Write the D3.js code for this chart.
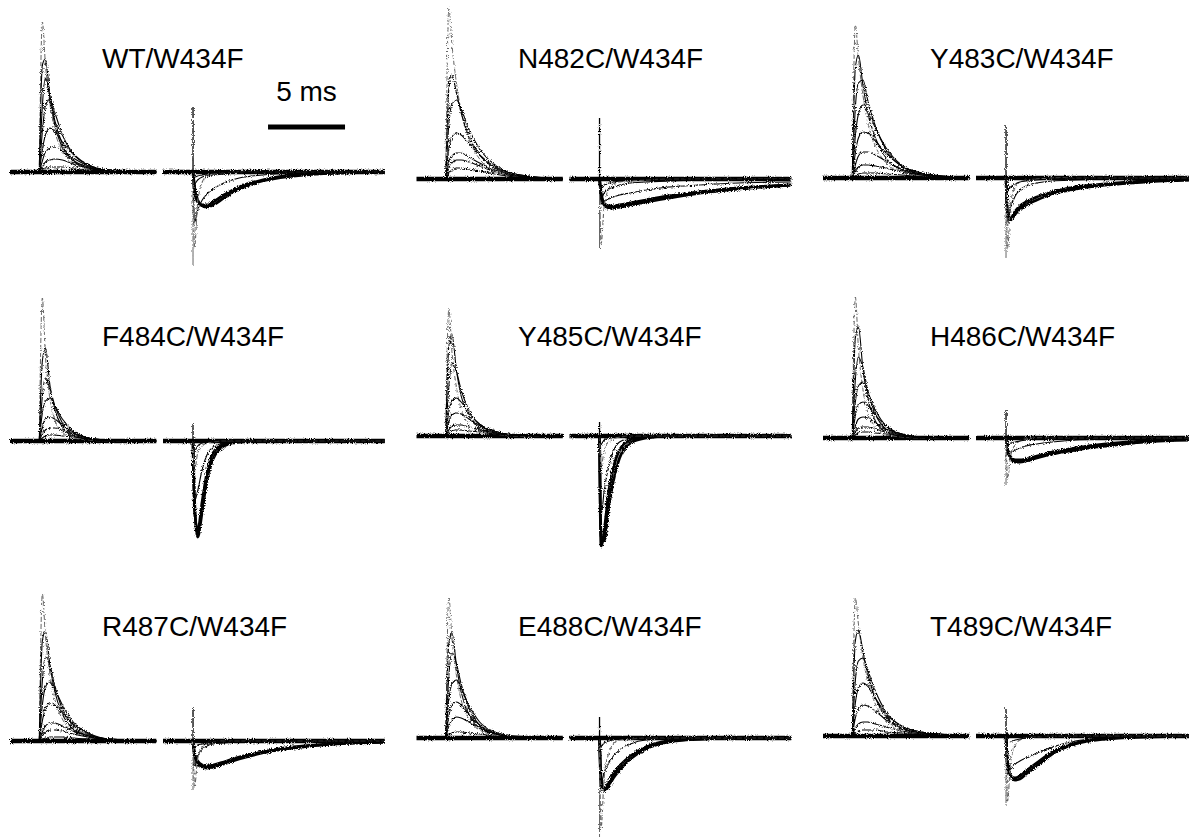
<!DOCTYPE html>
<html>
<head>
<meta charset="utf-8">
<script src="https://cdn.jsdelivr.net/npm/d3@7"></script>
<style>
html, body { margin: 0; background: #fff; }
</style>
</head>
<body>
<div id="chart"></div>
<script>
// panel titles, row by row
var panelNames = ["WT/W434F", "N482C/W434F", "Y483C/W434F",
                  "F484C/W434F", "Y485C/W434F", "H486C/W434F",
                  "R487C/W434F", "E488C/W434F", "T489C/W434F"];

// sample times (ms after the voltage step)
var tOn = [0, 0.2, 0.4, 0.7, 1.0, 1.5, 2.2, 3.2, 4.5, 7.6];
var tOff = [0, 0.1, 0.3, 0.6, 0.9, 1.3, 2, 3, 4.5, 6.5, 9, 12.45];

// ON gating currents (a.u.), one row per test pulse
var onWT = [[0,150,108,68,42,21,9,3,1,0],[0,107,113,74,48,24,11,4,1,0],[0,66,94,75,52,28,12,5,1,0],
  [0,40,66,73,60,37,18,7,2,0],[0,22,37,44,41,30,18,7,2,0],[0,11,20,24,25,21,14,6,2,0],
  [0,5,10,12,13,12,8,4,2,0],[0,2,4,5,5,5,4,2,1,0]];
var onN482C = [[0,171,135,95,68,40,20,8,3,0],[0,90,104,86,66,43,24,11,4,0],[0,55,75,79,70,50,30,14,5,0],
  [0,30,42,46,44,36,24,12,5,0],[0,16,23,26,26,22,16,9,4,0],[0,11,16,19,19,17,13,7,3,0],
  [0,6,9,11,11,10,8,5,2,0]];
var onY483C = [[0,153,120,82,56,32,15,6,2,0],[0,110,123,92,66,40,20,8,3,0],[0,70,95,98,78,52,28,12,4,0],
  [0,42,64,73,67,50,30,13,5,0],[0,25,40,46,45,37,25,12,5,0],[0,13,22,26,26,23,17,9,4,0],
  [0,6,11,13,13,12,10,6,3,0],[0,2,4,5,5,5,4,3,1,0]];
var onF484C = [[0,143,85,42,22,9,3,1,0,0],[0,80,93,55,32,14,5,2,0,0],[0,45,63,52,36,18,7,2,0,0],
  [0,28,40,43,35,22,10,3,1,0],[0,14,22,24,22,16,9,3,1,0],[0,7,11,13,13,11,7,3,1,0],
  [0,3,5,6,6,5,4,2,1,0]];
var onY485C = [[0,128,85,48,27,12,5,2,0,0],[0,90,101,65,40,20,8,3,1,0],[0,50,73,64,46,26,11,4,1,0],
  [0,24,35,38,34,23,12,5,1,0],[0,14,21,23,22,17,10,4,1,0],[0,6,10,11,11,9,6,3,1,0],
  [0,3,5,6,6,5,4,2,1,0]];
var onH486C = [[0,141,90,48,26,10,3,1,0,0],[0,100,111,68,40,17,6,2,0,0],[0,58,81,70,48,24,9,3,1,0],
  [0,36,52,56,46,28,12,4,1,0],[0,22,33,36,33,23,12,4,1,0],[0,12,19,21,20,15,9,4,1,0],
  [0,6,10,11,11,9,6,3,1,0],[0,3,5,6,6,5,4,2,1,0]];
var onR487C = [[0,147,105,66,42,22,10,4,1,0],[0,100,110,75,50,27,12,5,1,0],[0,60,84,75,56,32,15,6,2,0],
  [0,36,54,59,52,36,19,8,2,0],[0,20,33,38,36,28,17,7,2,0],[0,9,15,18,18,15,10,5,2,0],
  [0,5,9,11,11,10,7,4,1,0],[0,2,3,4,4,4,3,2,1,0]];
var onE488C = [[0,141,100,62,38,19,8,3,1,0],[0,95,105,72,46,24,10,4,1,0],[0,62,85,74,54,30,13,5,1,0],
  [0,38,54,58,50,33,16,6,2,0],[0,22,33,36,33,24,13,5,1,0],[0,12,18,21,20,16,10,4,1,0],
  [0,3,5,6,6,5,4,2,1,0]];
var onT489C = [[0,138,112,78,55,32,15,6,2,0],[0,95,106,84,62,38,19,8,3,0],[0,55,75,78,66,45,24,10,4,0],
  [0,33,48,53,50,38,22,10,4,0],[0,18,27,31,30,25,16,8,3,0],[0,8,12,14,14,12,9,5,2,0],
  [0,3,5,6,6,6,4,3,1,0]];

// OFF gating currents (a.u.): two slow large, one medium, one fast, small ones
var offWT = [[0,-15,-28,-34,-35,-33,-26,-17,-9,-4,-1,0],[0,-18,-30,-33,-33,-30,-23,-15,-8,-3,-1,0],
  [0,-50,-38,-28,-22,-17,-11,-6,-3,-1,0,0],[0,-75,-30,-10,-4,-2,-1,0,0,0,0,0],
  [0,-12,-8,-5,-4,-3,-2,-1,0,0,0,0],[0,-5,-4,-3,-2,-1,-1,0,0,0,0,0]];
var offN482C = [[0,-15,-26,-29,-29,-28,-26,-23,-19,-14,-10,-6],[0,-14,-24,-27,-27,-26,-24,-21,-17,-13,-9,-6],
  [0,-25,-22,-20,-18,-16,-14,-11,-8,-6,-4,-3],[0,-65,-28,-10,-5,-3,-2,-1,0,0,0,0],
  [0,-20,-14,-10,-8,-6,-4,-3,-2,-1,-1,0],[0,-8,-6,-4,-3,-2,-1,0,0,0,0,0]];
var offY483C = [[0,-35,-42,-36,-31,-27,-22,-16,-11,-7,-4,-2],[0,-38,-40,-33,-28,-24,-19,-14,-9,-6,-3,-1],
  [0,-45,-30,-18,-12,-8,-5,-3,-2,-1,0,0],[0,-70,-25,-9,-4,-2,-1,0,0,0,0,0],
  [0,-12,-9,-6,-4,-3,-2,-1,0,0,0,0]];
var offF484C = [[0,-60,-96,-70,-40,-18,-5,-1,0,0,0,0],[0,-70,-90,-60,-32,-12,-3,0,0,0,0,0],
  [0,-60,-50,-28,-14,-6,-2,0,0,0,0,0],[0,-30,-12,-5,-2,-1,0,0,0,0,0,0],
  [0,-10,-5,-2,-1,0,0,0,0,0,0,0]];
var offY485C = [[0,-100,-105,-70,-45,-22,-7,-2,0,0,0,0],[0,-110,-95,-55,-32,-14,-4,-1,0,0,0,0],
  [0,-80,-55,-30,-15,-6,-2,0,0,0,0,0],[0,-30,-15,-6,-3,-1,0,0,0,0,0,0],
  [0,-8,-4,-2,-1,0,0,0,0,0,0,0]];
var offH486C = [[0,-12,-20,-24,-24,-23,-20,-16,-12,-8,-4,-2],[0,-11,-19,-22,-22,-21,-18,-14,-10,-6,-3,-1],
  [0,-15,-14,-12,-10,-8,-6,-4,-2,-1,0,0],[0,-40,-18,-7,-3,-1,0,0,0,0,0,0],
  [0,-6,-5,-4,-3,-2,-1,0,0,0,0,0]];
var offR487C = [[0,-14,-22,-26,-27,-26,-23,-18,-12,-7,-3,-1],[0,-13,-20,-24,-25,-24,-21,-16,-11,-6,-3,-1],
  [0,-25,-15,-8,-5,-3,-2,-1,0,0,0,0],[0,-45,-18,-6,-2,-1,0,0,0,0,0,0],
  [0,-6,-4,-3,-2,-1,0,0,0,0,0,0]];
var offE488C = [[0,-40,-53,-48,-40,-32,-21,-11,-4,-1,0,0],[0,-45,-52,-44,-36,-28,-18,-9,-3,-1,0,0],
  [0,-45,-35,-25,-18,-12,-6,-2,-1,0,0,0],[0,-90,-40,-15,-6,-2,-1,0,0,0,0,0],
  [0,-8,-5,-3,-2,-1,0,0,0,0,0,0]];
var offT489C = [[0,-28,-40,-44,-43,-38,-30,-18,-8,-3,-1,0],[0,-30,-40,-42,-40,-35,-27,-16,-7,-2,0,0],
  [0,-35,-33,-28,-25,-22,-17,-11,-5,-2,0,0],[0,-65,-25,-9,-4,-2,-1,0,0,0,0,0],
  [0,-8,-6,-4,-3,-2,-1,0,0,0,0,0]];

// capacitive spike at the OFF step (a.u.)
var spikeUp = [65, 61, 53, 18, 14, 28, 33, 21, 28];
var spikeDown = [-93, -70, -80, -30, -20, -47, -49, -99, -71];

var onTraces = [onWT, onN482C, onY483C, onF484C, onY485C, onH486C, onR487C, onE488C, onT489C];
var offTraces = [offWT, offN482C, offY483C, offF484C, offY485C, offH486C, offR487C, offE488C, offT489C];

// layout
var W = 1189, H = 838;
var msPx = 15.4;
var colX = [0, 406.5, 813];
var rowBase = [[172, 179, 178], [441, 436, 438], [741, 738, 736]];
var titleX = [102, 518, 930];
var titleY = [68, 346, 636];
var barStart = 4.87; // ms on WT off time axis

var svg = d3.select("#chart").append("svg").attr("width", W).attr("height", H);

var flt = svg.append("defs").append("filter").attr("id", "jit")
  .attr("filterUnits", "userSpaceOnUse").attr("x", 0).attr("y", 0).attr("width", W).attr("height", H);
flt.append("feTurbulence").attr("type", "fractalNoise").attr("baseFrequency", "0.95")
  .attr("numOctaves", 1).attr("seed", 4).attr("result", "n");
flt.append("feDisplacementMap").attr("in", "SourceGraphic").attr("in2", "n").attr("scale", 4)
  .attr("xChannelSelector", "R").attr("yChannelSelector", "G");

var traces = svg.append("g").attr("filter", "url(#jit)");

panelNames.forEach(function(name, i) {
  var r = Math.floor(i / 3), c = i % 3;
  var x0 = colX[c], yb = rowBase[r][c];
  var xOn = d3.scaleLinear().domain([-1.9, 7.6]).range([x0 + 10, x0 + 10 + 9.5 * msPx]);
  var xOff = d3.scaleLinear().domain([-1.95, 12.45]).range([x0 + 163, x0 + 163 + 14.4 * msPx]);
  var y = d3.scaleLinear().domain([-150, 150]).range([yb + 150, yb - 150]);
  var g = traces.append("g");

  var lineOn = d3.line().x(function(d, k) { return xOn(tOn[k]); }).y(function(d) { return y(d); })
    .curve(d3.curveMonotoneX);
  var lineOff = d3.line().x(function(d, k) { return xOff(tOff[k]); }).y(function(d) { return y(d); })
    .curve(d3.curveMonotoneX);
  var flat = d3.line().x(function(d) { return d[0]; }).y(function(d) { return y(d[1]); });

  // noisy baselines
  g.append("path").attr("d", flat([[xOn(-1.9), 0], [xOn(7.6), 0]]))
    .attr("stroke", "#000").attr("stroke-width", 4.5).attr("fill", "none");
  g.append("path").attr("d", flat([[xOff(-1.95), 0], [xOff(12.45), 0]]))
    .attr("stroke", "#000").attr("stroke-width", 4.5).attr("fill", "none");

  onTraces[i].forEach(function(tr, k) {
    g.append("path").attr("d", lineOn(tr)).attr("fill", "none")
      .attr("stroke", k === 0 ? "#555" : "#000")
      .attr("stroke-width", k === 0 ? 0.9 : 1.1)
      .attr("stroke-dasharray", k === 0 ? "5 2" : null);
  });

  // spike at off step
  g.append("path").attr("d", flat([[xOff(0), 0], [xOff(0), spikeUp[i]]]))
    .attr("stroke", "#000").attr("stroke-width", 1.3).attr("fill", "none");
  g.append("path").attr("d", flat([[xOff(0), 0], [xOff(0), spikeDown[i]]]))
    .attr("stroke", "#666").attr("stroke-width", 1).attr("fill", "none");

  offTraces[i].forEach(function(tr, k) {
    g.append("path").attr("d", lineOff(tr)).attr("fill", "none")
      .attr("stroke", k === 3 ? "#666" : "#000")
      .attr("stroke-width", k < 2 ? 2.8 : 1.1)
      .attr("stroke-dasharray", k === 3 ? "5 2" : null);
  });

  svg.append("text").attr("x", titleX[c]).attr("y", titleY[r])
    .attr("font-family", "Liberation Sans, Arial, sans-serif").attr("font-size", 28)
    .attr("fill", "#000").text(name);

  if (i === 0) {
    svg.append("path").attr("d", flat([[xOff(barStart), 0], [xOff(barStart + 5), 0]]))
      .attr("transform", "translate(0," + (127 - yb) + ")")
      .attr("stroke", "#000").attr("stroke-width", 5).attr("fill", "none");
    svg.append("text").attr("x", (xOff(barStart) + xOff(barStart + 5)) / 2).attr("y", 101)
      .attr("text-anchor", "middle")
      .attr("font-family", "Liberation Sans, Arial, sans-serif").attr("font-size", 28)
      .text("5 ms");
  }
});
</script>
</body>
</html>
